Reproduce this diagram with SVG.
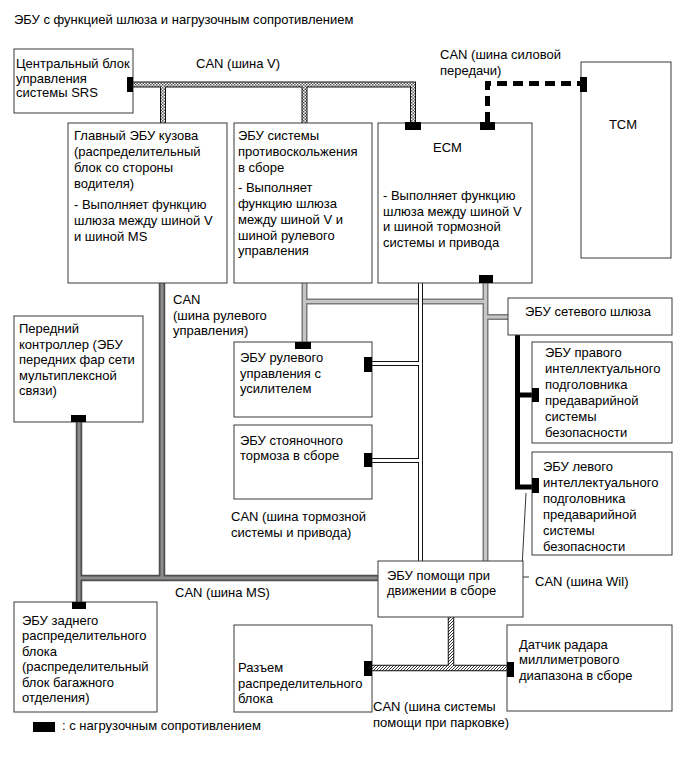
<svg xmlns="http://www.w3.org/2000/svg" width="686" height="760" viewBox="0 0 686 760">
<defs>
  <pattern id="chk" width="3" height="3" patternUnits="userSpaceOnUse">
    <rect width="3" height="3" fill="#fff"/>
    <rect width="1.5" height="1.5" fill="#555"/>
    <rect x="1.5" y="1.5" width="1.5" height="1.5" fill="#555"/>
  </pattern>
  <pattern id="diag" width="3" height="3" patternUnits="userSpaceOnUse">
    <rect width="3" height="3" fill="#fff"/>
    <path d="M-1,1 L1,-1 M0,3 L3,0 M2,4 L4,2" stroke="#222" stroke-width="0.9"/>
  </pattern>
</defs>
<style>
  text{font-family:"Liberation Sans",Arial,sans-serif;font-size:13px;fill:#000}
  .box{fill:#fff;stroke:#3a3a3a;stroke-width:1}
  .term{fill:#000}
  .vout{fill:none;stroke:#111;stroke-width:6}
  .vin{fill:none;stroke:url(#chk);stroke-width:4}
  .sout{fill:none;stroke:#7a7a7a;stroke-width:6}
  .sin{fill:none;stroke:#c6c6c6;stroke-width:3}
  .bout{fill:none;stroke:#111;stroke-width:5}
  .bin{fill:none;stroke:#fff;stroke-width:3}
  .mout{fill:none;stroke:#4e4e4e;stroke-width:6.5}
  .min{fill:none;stroke:#8c8c8c;stroke-width:3}
  .pt{fill:none;stroke:#000;stroke-width:5;stroke-dasharray:10 6}
  .wil{fill:none;stroke:#000;stroke-width:5;stroke-linejoin:miter}
  .pout{fill:none;stroke:#111;stroke-width:6.5}
  .pin{fill:none;stroke:url(#diag);stroke-width:4.5}
  .lead{fill:none;stroke:#000;stroke-width:0.8}
</style>
<rect width="686" height="760" fill="#fff"/>

<text x="14" y="24">ЭБУ с функцией шлюза и нагрузочным сопротивлением</text>

<g id="connectors">
  <!-- CAN V bus -->
  <path class="vout" d="M133,84.5 H413 V122 M163,84.5 V123 M304.5,84.5 V123"/>
  <path class="vin" d="M133,84.5 H413 V122 M163,84.5 V123 M304.5,84.5 V123"/>
  <!-- Powertrain bus -->
  <path class="pt" d="M487.5,122 V83.5 H580"/>
  <!-- Steering bus -->
  <path class="sout" d="M304.5,283 V342 M304.5,301.5 H485.5 M485.5,283 V561 M485.5,317 H508"/>
  <path class="sin" d="M304.5,283 V342 M304.5,301.5 H485.5 M485.5,283 V561 M485.5,317 H508"/>
  <!-- Brake bus -->
  <path class="bout" d="M420.5,283 V561 M372,363.5 H420.5 M372,460.5 H420.5"/>
  <path class="bin" d="M420.5,283 V561 M372,363.5 H420.5 M372,460.5 H420.5"/>
  <!-- MS bus -->
  <path class="mout" d="M162,283 V578 M79,422 V602 M79,578 H378"/>
  <path class="min" d="M162,283 V578 M79,422 V602 M79,578 H378"/>
  <!-- Wil bus -->
  <path class="wil" d="M517.5,335 V487 H532 M517.5,395 H532"/>
  <polyline class="lead" points="526,493 521.5,577 529,577"/>
  <!-- Parking assist bus -->
  <path class="pout" d="M372,668 H507 M451,617 V668"/>
  <path class="pin" d="M372,668 H507 M451,617 V668"/>
</g>

<g id="labels">
  <text x="196" y="68">CAN (шина V)</text>
  <text x="440" y="59">CAN (шина силовой</text>
  <text x="440" y="75">передачи)</text>
  <text x="173" y="304">CAN</text>
  <text x="173" y="320">(шина рулевого</text>
  <text x="173" y="335">управления)</text>
  <text x="231" y="521">CAN (шина тормозной</text>
  <text x="231" y="537">системы и привода)</text>
  <text x="175" y="597">CAN (шина MS)</text>
  <text x="535" y="586">CAN (шина Wil)</text>
  <text x="373" y="711">CAN (шина системы</text>
  <text x="373" y="727">помощи при парковке)</text>
</g>

<g id="srs">
  <rect class="box" x="14" y="49" width="119" height="64"/>
  <text x="16" y="68">Центральный блок</text>
  <text x="16" y="82.5">управления</text>
  <text x="16" y="97">системы SRS</text>
  <rect class="term" x="127" y="77" width="6" height="15"/>
</g>

<g id="main-body-ecu">
  <rect class="box" x="68" y="123" width="159" height="160"/>
  <text x="74" y="140">Главный ЭБУ кузова</text>
  <text x="74" y="156">(распределительный</text>
  <text x="74" y="172">блок со стороны</text>
  <text x="74" y="188">водителя)</text>
  <text x="74" y="209">- Выполняет функцию</text>
  <text x="74" y="225">шлюза между шиной V</text>
  <text x="74" y="241">и шиной MS</text>
</g>

<g id="skid-control-ecu">
  <rect class="box" x="234" y="123" width="138" height="160"/>
  <text x="238" y="140">ЭБУ системы</text>
  <text x="238" y="156">противоскольжения</text>
  <text x="238" y="172">в сборе</text>
  <text x="238" y="192">- Выполняет</text>
  <text x="238" y="208">функцию шлюза</text>
  <text x="238" y="223.5">между шиной V и</text>
  <text x="238" y="239.5">шиной рулевого</text>
  <text x="238" y="255">управления</text>
</g>

<g id="ecm">
  <rect class="box" x="378" y="123" width="154" height="160"/>
  <text x="433" y="152">ECM</text>
  <text x="383" y="200">- Выполняет функцию</text>
  <text x="383" y="215.5">шлюза между шиной V</text>
  <text x="383" y="231">и шиной тормозной</text>
  <text x="383" y="246.5">системы и привода</text>
  <rect class="term" x="405" y="122" width="16" height="8"/>
  <rect class="term" x="480" y="122" width="15" height="8"/>
  <rect class="term" x="479" y="275" width="14" height="8"/>
</g>

<g id="tcm">
  <rect class="box" x="581" y="62" width="90" height="196"/>
  <text x="623" y="129" text-anchor="middle">TCM</text>
  <rect class="term" x="580" y="77" width="7" height="15"/>
</g>

<g id="network-gateway-ecu">
  <rect class="box" x="508" y="298" width="164" height="37"/>
  <text x="525" y="316">ЭБУ сетевого шлюза</text>
</g>

<g id="right-headrest-ecu">
  <rect class="box" x="532" y="342" width="140" height="101"/>
  <text x="545" y="357">ЭБУ правого</text>
  <text x="545" y="373">интеллектуального</text>
  <text x="545" y="389">подголовника</text>
  <text x="545" y="405">предаварийной</text>
  <text x="545" y="421">системы</text>
  <text x="545" y="437">безопасности</text>
  <rect class="term" x="532" y="388" width="7" height="14"/>
</g>

<g id="left-headrest-ecu">
  <rect class="box" x="532" y="452" width="140" height="103"/>
  <text x="543" y="471">ЭБУ левого</text>
  <text x="543" y="487">интеллектуального</text>
  <text x="543" y="503">подголовника</text>
  <text x="543" y="519">предаварийной</text>
  <text x="543" y="535">системы</text>
  <text x="543" y="551">безопасности</text>
  <rect class="term" x="532" y="478" width="7" height="15"/>
</g>

<g id="front-controller">
  <rect class="box" x="14" y="316" width="129" height="106"/>
  <text x="19" y="333">Передний</text>
  <text x="19" y="348.5">контроллер (ЭБУ</text>
  <text x="19" y="364">передних фар сети</text>
  <text x="19" y="379.5">мультиплексной</text>
  <text x="19" y="395">связи)</text>
  <rect class="term" x="71" y="415" width="15" height="7"/>
</g>

<g id="eps-ecu">
  <rect class="box" x="234" y="342" width="138" height="75"/>
  <text x="240" y="362">ЭБУ рулевого</text>
  <text x="240" y="377.5">управления с</text>
  <text x="240" y="393">усилителем</text>
  <rect class="term" x="295" y="342" width="16" height="7"/>
  <rect class="term" x="364" y="357" width="8" height="15"/>
</g>

<g id="parking-brake-ecu">
  <rect class="box" x="234" y="425" width="138" height="74"/>
  <text x="240" y="444.5">ЭБУ стояночного</text>
  <text x="240" y="460">тормоза в сборе</text>
  <rect class="term" x="364" y="453" width="8" height="14"/>
</g>

<g id="driving-support-ecu">
  <rect class="box" x="378" y="561" width="145" height="56"/>
  <text x="387" y="579.5">ЭБУ помощи при</text>
  <text x="387" y="595">движении в сборе</text>
</g>

<g id="rear-jb-ecu">
  <rect class="box" x="14" y="602" width="143" height="110"/>
  <text x="22" y="624.5">ЭБУ заднего</text>
  <text x="22" y="640">распределительного</text>
  <text x="22" y="655.5">блока</text>
  <text x="22" y="671">(распределительный</text>
  <text x="22" y="686.5">блок багажного</text>
  <text x="22" y="702">отделения)</text>
  <rect class="term" x="72" y="602" width="14" height="7"/>
</g>

<g id="jb-connector">
  <rect class="box" x="234" y="625" width="138" height="87"/>
  <text x="238" y="672">Разъем</text>
  <text x="238" y="687.5">распределительного</text>
  <text x="238" y="703">блока</text>
  <rect class="term" x="364" y="661" width="8" height="15"/>
</g>

<g id="radar-sensor">
  <rect class="box" x="507" y="625" width="165" height="86"/>
  <text x="519" y="648.5">Датчик радара</text>
  <text x="519" y="664">миллиметрового</text>
  <text x="519" y="680">диапазона в сборе</text>
  <rect class="term" x="507" y="662" width="7" height="15"/>
</g>

<g id="legend">
  <rect class="term" x="33" y="722" width="22" height="10"/>
  <text x="62" y="730">: с нагрузочным сопротивлением</text>
</g>
</svg>
